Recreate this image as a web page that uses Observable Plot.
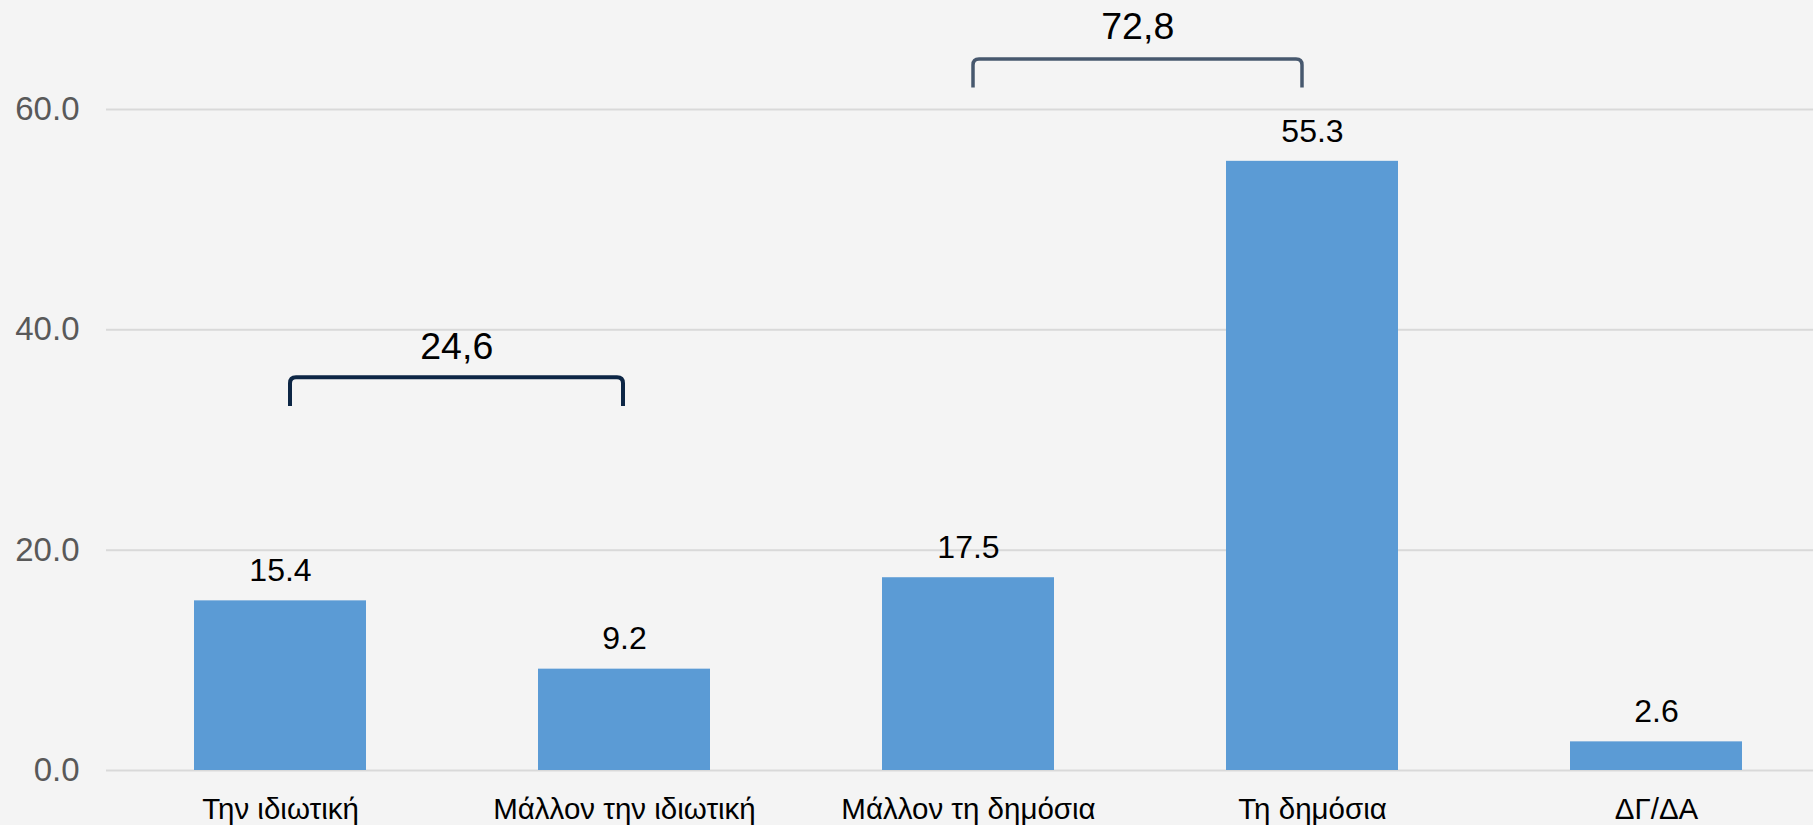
<!DOCTYPE html>
<html>
<head>
<meta charset="utf-8">
<script src="https://cdn.jsdelivr.net/npm/d3@7"></script>
<script src="https://cdn.jsdelivr.net/npm/@observablehq/plot@0.6"></script>
<style>
  html, body { margin: 0; padding: 0; background: #f4f4f4; }
  #chart svg { display: block; background: #f4f4f4; font-family: "Liberation Sans", Arial, sans-serif; }
</style>
</head>
<body>
<div id="chart"></div>
<script>
// ---- data ----
const categories = ["Την ιδιωτική", "Μάλλον την ιδιωτική", "Μάλλον τη δημόσια", "Τη δημόσια", "ΔΓ/ΔΑ"];
const values = [15.4, 9.2, 17.5, 55.3, 2.6];
const yTicks = [0, 20, 40, 60];
const bracketFrom = ["Την ιδιωτική", "Μάλλον τη δημόσια"];
const bracketTo = ["Μάλλον την ιδιωτική", "Τη δημόσια"];
const bracketLabels = ["24,6", "72,8"];

const data = categories.map((c, i) => ({category: c, value: values[i]}));

// annotation layout (value units on the y scale)
const bracketTop = [35.7, 64.6];
const bracketBottom = [33.1, 62.0];
const bracketLabelY = [38.4, 67.5];
const bracketColor = ["#0d2645", "#47586e"];
const bracketWidth = [4, 3.5];
const bracketInsetL = [9.5, 4.5];
const bracketInsetR = [1.5, 10.5];

// custom d3 curve: square bracket with rounded corners and end insets
function bracketCurve(insetL, insetR, r) {
  return (context) => {
    let pts = [];
    return {
      areaStart() {}, areaEnd() {},
      lineStart() { pts = []; },
      point(x, y) { pts.push([+x, +y]); },
      lineEnd() {
        if (pts.length < 4) return;
        const [a, b, c, d] = pts;
        const xl = a[0] + insetL, xr = d[0] - insetR;
        context.moveTo(xl, a[1]);
        context.lineTo(xl, b[1] + r);
        context.quadraticCurveTo(xl, b[1], xl + r, b[1]);
        context.lineTo(xr - r, c[1]);
        context.quadraticCurveTo(xr, c[1], xr, c[1] + r);
        context.lineTo(xr, d[1]);
      }
    };
  };
}

const W = 1813, H = 825;
const xRange = [106.25, 1828.75];
const xs = Plot.scale({x: {type: "band", domain: categories, range: xRange, paddingInner: 0.5, paddingOuter: 0.25}});

const marks = [
  Plot.gridY(yTicks, {stroke: "#d9d9d9", strokeOpacity: 1, strokeWidth: 2}),
  Plot.barY(data, {x: "category", y: "value", fill: "#5b9bd5"}),
  Plot.text(data, {x: "category", y: "value", text: d => d.value.toFixed(1), dy: -30, fontSize: 32, fill: "#000"}),
  Plot.axisY(yTicks, {tickSize: 0, tickPadding: 27, tickFormat: d3.format(".1f"), fontSize: 33, fill: "#595959", label: null}),
  Plot.axisX({tickSize: 0, tickPadding: 28, fontSize: 29.5, fill: "#000", label: null})
];

bracketLabels.forEach((lab, i) => {
  const pts = [
    {x: bracketFrom[i], y: bracketBottom[i]},
    {x: bracketFrom[i], y: bracketTop[i]},
    {x: bracketTo[i], y: bracketTop[i]},
    {x: bracketTo[i], y: bracketBottom[i]}
  ];
  marks.push(Plot.line(pts, {x: "x", y: "y", stroke: bracketColor[i], strokeWidth: bracketWidth[i],
    curve: bracketCurve(bracketInsetL[i], bracketInsetR[i], 6), strokeLinecap: "butt"}));
  const span = xs.apply(bracketTo[i]) - xs.apply(bracketFrom[i]);
  const shift = (bracketInsetL[i] - bracketInsetR[i]) / 2;
  marks.push(Plot.text([lab], {x: () => bracketFrom[i], y: () => bracketLabelY[i], text: d => d,
    dx: span / 2 + shift, fontSize: 37.5, fill: "#000"}));
});

const chart = Plot.plot({
  width: W,
  height: H,
  marginLeft: 106,
  marginRight: 0,
  marginTop: 0,
  marginBottom: 55,
  style: {background: "#f4f4f4", fontFamily: "Liberation Sans, Arial, sans-serif"},
  x: {domain: categories, range: xRange, paddingInner: 0.5, paddingOuter: 0.25},
  y: {domain: [0, 69.9]},
  marks
});
document.getElementById("chart").appendChild(chart);
</script>
</body>
</html>
